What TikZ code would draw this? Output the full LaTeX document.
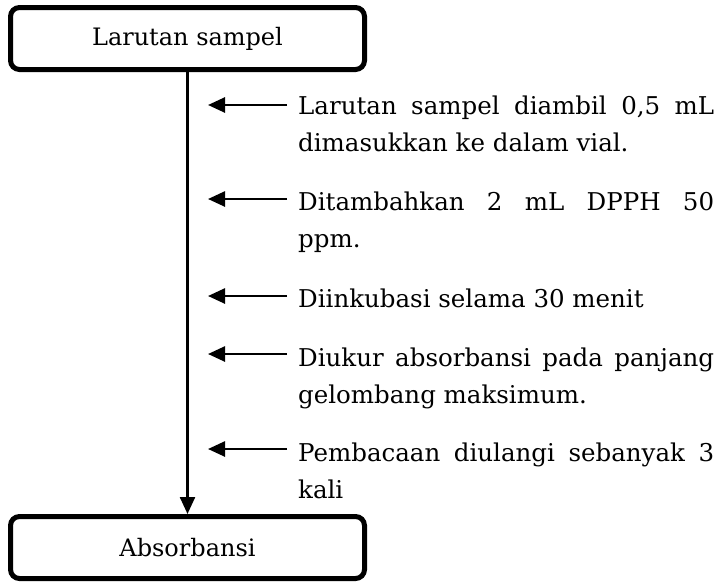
\documentclass[tikz,border=0pt]{standalone}
\usepackage{fontspec}
\setmainfont{DejaVu Serif}
\usetikzlibrary{arrows.meta}
\begin{document}
\begin{tikzpicture}[x=1pt,y=-1pt,
  stagebox/.style={draw,line width=5pt,rounded corners=9pt,minimum width=354pt,minimum height=62pt,font=\fontsize{24}{28}\selectfont,inner sep=0pt},
  flowline/.style={line width=2.4pt,-{Triangle[length=17pt,width=15pt]}},
  sidearrow/.style={line width=2.6pt,-{Triangle[length=17pt,width=15pt]}},
  steptext/.style={anchor=base west,inner sep=0pt,font=\fontsize{24.5}{37}\selectfont}]
\useasboundingbox (0,0) rectangle (726,584);
\node[stagebox] (top) at (187.5,38.5) {Larutan sampel};
\node[stagebox] (bot) at (187.5,547.5) {Absorbansi};
\draw[flowline] (top.south) -- (bot.north);
% step descriptions, first line justified to the full column width
\newcommand{\jline}[1]{\makebox[416pt][s]{#1}}
\newcommand{\stepbody}[1]{\parbox[t]{416pt}{#1}}
\node[steptext] (s1) at (298,114) {\stepbody{\jline{Larutan sampel diambil 0,5 mL}\\dimasukkan ke dalam vial.}};
\node[steptext] (s2) at (298,210) {\stepbody{\jline{Ditambahkan 2 mL DPPH 50}\\ppm.}};
\node[steptext] (s3) at (298,307) {\stepbody{Diinkubasi selama 30 menit}};
\node[steptext] (s4) at (298,366) {\stepbody{\jline{Diukur absorbansi pada panjang}\\gelombang maksimum.}};
\node[steptext] (s5) at (298,461) {\stepbody{\jline{Pembacaan diulangi sebanyak 3}\\kali}};
\coordinate (a1) at (208,105);
\coordinate (a2) at (208,199);
\coordinate (a3) at (208,296);
\coordinate (a4) at (208,354);
\coordinate (a5) at (208,449);
\foreach \i in {1,...,5}{
  \draw[sidearrow] (a\i -| 287,0) -- (a\i);
}
\end{tikzpicture}
\end{document}
